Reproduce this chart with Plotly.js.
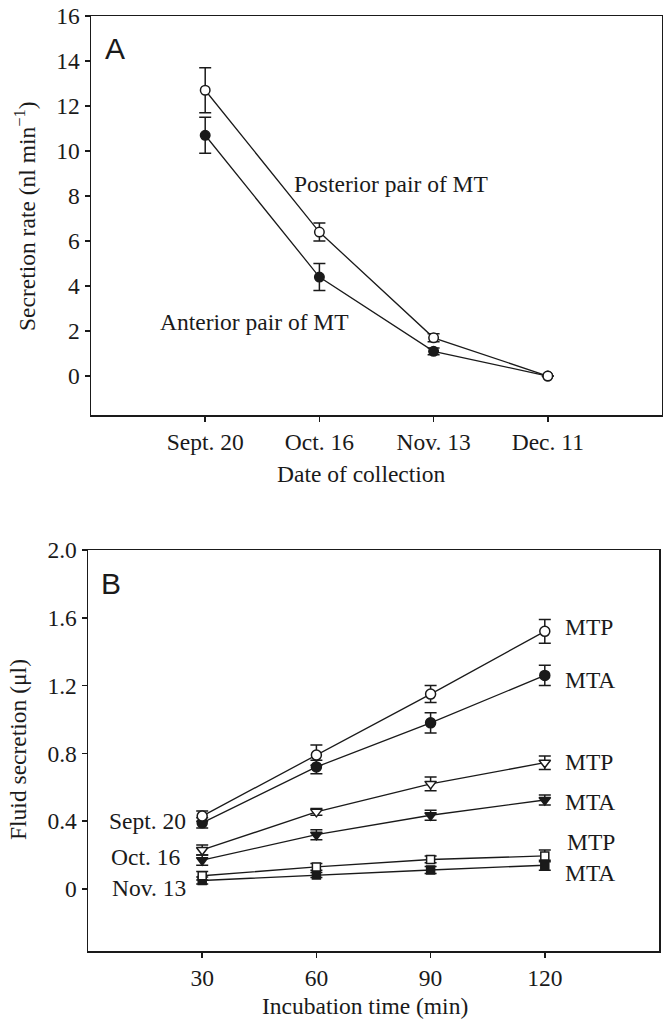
<!DOCTYPE html>
<html>
<head>
<meta charset="utf-8">
<script src="https://cdn.plot.ly/plotly-3.0.1.min.js"></script>
<style>html,body{margin:0;padding:0;background:#fff;}#chart{width:663px;height:1020px;}</style>
</head>
<body>
<div id="chart"></div>
<script>
// ---- Panel A data ----
var dates = ['Sept. 20', 'Oct. 16', 'Nov. 13', 'Dec. 11'];
var posterior = [12.7, 6.4, 1.7, 0.0];
var posteriorErr = [1.0, 0.4, 0.18, 0];
var anterior = [10.7, 4.4, 1.1, 0.0];
var anteriorErr = [0.8, 0.6, 0.15, 0];
var aTickVals = [0, 2, 4, 6, 8, 10, 12, 14, 16];

// ---- Panel B data ----
var times = [30, 60, 90, 120];
var septMTP = [0.43, 0.79, 1.15, 1.52];
var septMTPErr = [0.03, 0.06, 0.05, 0.07];
var septMTA = [0.39, 0.72, 0.98, 1.26];
var septMTAErr = [0.03, 0.04, 0.06, 0.06];
var octMTP = [0.23, 0.455, 0.62, 0.745];
var octMTPErr = [0.03, 0.02, 0.04, 0.04];
var octMTA = [0.17, 0.32, 0.435, 0.525];
var octMTAErr = [0.03, 0.03, 0.03, 0.03];
var novMTP = [0.078, 0.13, 0.174, 0.195];
var novMTPErr = [0.025, 0.02, 0.02, 0.035];
var novMTA = [0.05, 0.082, 0.112, 0.14];
var novMTAErr = [0.02, 0.015, 0.02, 0.03];
var bTickVals = [0, 0.4, 0.8, 1.2, 1.6, 2.0];
var bTickText = ['0', '0.4', '0.8', '1.2', '1.6', '2.0'];
var bXTicks = [30, 60, 90, 120];

var W = 663, H = 1020;
function fx(p) { return p / W; }
function fy(p) { return 1 - p / H; }

var INK = '#1a1a1a';
var SERIF = 'Liberation Serif, Times New Roman, serif';
var FS = 23.5;

function errObj(arr) {
  return {type: 'data', array: arr, visible: true, thickness: 1.5, width: 6, color: INK};
}
function trace(x, y, err, symbol, filled, size, xa, ya) {
  return {
    x: x, y: y, type: 'scatter', mode: 'lines+markers',
    xaxis: xa, yaxis: ya,
    line: {color: INK, width: 1.3},
    marker: {symbol: symbol, size: size, color: filled ? INK : '#ffffff',
             line: {color: INK, width: 1.5}},
    error_y: errObj(err),
    showlegend: false, hoverinfo: 'skip', cliponaxis: false
  };
}

var data = [
  trace(dates, anterior, anteriorErr, 'circle', true, 9.5, 'x', 'y'),
  trace(dates, posterior, posteriorErr, 'circle', false, 9.5, 'x', 'y'),
  trace(times, novMTA, novMTAErr, 'square', true, 8, 'x2', 'y2'),
  trace(times, novMTP, novMTPErr, 'square', false, 8, 'x2', 'y2'),
  trace(times, octMTA, octMTAErr, 'triangle-down', true, 10, 'x2', 'y2'),
  trace(times, octMTP, octMTPErr, 'triangle-down', false, 10, 'x2', 'y2'),
  trace(times, septMTA, septMTAErr, 'circle', true, 10, 'x2', 'y2'),
  trace(times, septMTP, septMTPErr, 'circle', false, 10, 'x2', 'y2')
];

var axisCommon = {
  showgrid: false, zeroline: false, showline: true, mirror: true,
  linecolor: INK, linewidth: 1.5, ticks: 'outside', ticklen: 5, tickwidth: 1.5,
  tickcolor: INK, tickfont: {family: SERIF, size: FS, color: INK}, fixedrange: true
};
function ax(extra) { return Object.assign({}, axisCommon, extra); }

function txt(text, x, y, xanchor, yanchor, opts) {
  var a = {
    text: text, xref: 'paper', yref: 'paper', x: fx(x), y: fy(y),
    xanchor: xanchor, yanchor: yanchor, showarrow: false,
    font: {family: SERIF, size: FS, color: INK}
  };
  return Object.assign(a, opts || {});
}

var annotations = [
  txt('A', 114.5, 48, 'center', 'middle', {font: {family: 'Liberation Sans, Arial, sans-serif', size: 30, color: INK}}),
  txt('B', 111, 583, 'center', 'middle', {font: {family: 'Liberation Sans, Arial, sans-serif', size: 30, color: INK}}),
  txt('Posterior pair of MT', 292, 184, 'left', 'middle'),
  txt('Anterior pair of MT', 158, 322, 'left', 'middle'),
  txt('Date of collection', 361.5, 474, 'center', 'middle'),
  txt('Secretion rate (nl min<sup>\u22121</sup>)', 25, 216, 'center', 'middle', {textangle: -90}),
  txt('MTP', 563, 627, 'left', 'middle'),
  txt('MTA', 563, 680, 'left', 'middle'),
  txt('MTP', 563, 762, 'left', 'middle'),
  txt('MTA', 563, 802, 'left', 'middle'),
  txt('MTP', 565, 842, 'left', 'middle'),
  txt('MTA', 563, 873, 'left', 'middle'),
  txt('Sept. 20', 188, 821, 'right', 'middle'),
  txt('Oct. 16', 182, 857, 'right', 'middle'),
  txt('Nov. 13', 188, 888, 'right', 'middle'),
  txt('Incubation time (min)', 364.5, 1006, 'center', 'middle'),
  txt('Fluid secretion (\u03bcl)', 18, 750, 'center', 'middle', {textangle: -90})
];

var layout = {
  width: W, height: H,
  margin: {l: 0, r: 0, t: 0, b: 0},
  paper_bgcolor: '#ffffff', plot_bgcolor: '#ffffff',
  showlegend: false,
  xaxis: ax({domain: [fx(91), fx(662)], anchor: 'y', type: 'category',
             categoryorder: 'array', categoryarray: dates, range: [-1, 4]}),
  yaxis: ax({domain: [fy(415), fy(16)], anchor: 'x', range: [-1.73, 16],
             tickmode: 'array', tickvals: aTickVals}),
  xaxis2: ax({domain: [fx(88), fx(659)], anchor: 'y2', range: [0, 150],
              tickmode: 'array', tickvals: bXTicks}),
  yaxis2: ax({domain: [fy(951), fy(550)], anchor: 'x2', range: [-0.366, 2.0],
              tickmode: 'array', tickvals: bTickVals, ticktext: bTickText}),
  annotations: annotations
};

Plotly.newPlot('chart', data, layout, {displayModeBar: false, staticPlot: true});
</script>
</body>
</html>
